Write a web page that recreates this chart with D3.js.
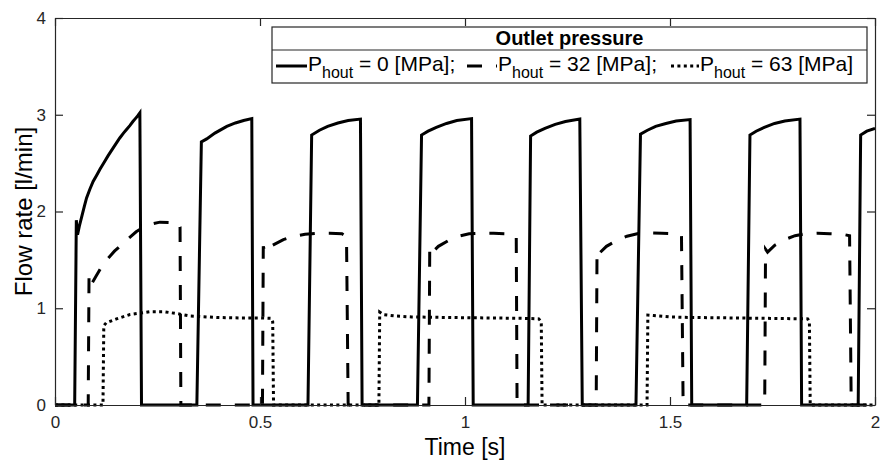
<!DOCTYPE html>
<html>
<head>
<meta charset="utf-8">
<script src="https://cdn.jsdelivr.net/npm/d3@7/dist/d3.min.js"></script>
<style>
  html, body { margin: 0; padding: 0; background: #fff; }
  svg { display: block; font-family: "Liberation Sans", Arial, Helvetica, sans-serif; }
</style>
</head>
<body>
<svg id="chart" width="881" height="460"></svg>
<script>
// ---------------- data ----------------
const xTicks = [0, 0.5, 1, 1.5, 2];
const yTicks = [0, 1, 2, 3, 4];
const xTickLabels = ["0", "0.5", "1", "1.5", "2"];
const yTickLabels = ["0", "1", "2", "3", "4"];

const legendTitle = "Outlet pressure";
const seriesNames = ["0", "32", "63"];

// P_hout = 0 MPa  [time s, flow l/min]
const p0 = [
  [0,0],[0.048,0],[0.052,1.91],[0.055,1.76],[0.060,1.86],[0.066,1.96],[0.072,2.06],[0.077,2.14],[0.085,2.23],
  [0.093,2.31],[0.101,2.37],[0.110,2.44],[0.120,2.51],[0.130,2.58],[0.140,2.645],[0.150,2.71],[0.158,2.76],
  [0.167,2.81],[0.175,2.85],[0.183,2.89],[0.190,2.93],[0.196,2.96],[0.202,2.99],[0.207,3.02],[0.211,0],
  [0.346,0],[0.357,2.72],[0.370,2.75],[0.390,2.81],[0.419,2.88],[0.440,2.915],[0.460,2.94],[0.480,2.96],[0.483,0],
  [0.617,0],[0.626,2.79],[0.645,2.84],[0.665,2.88],[0.690,2.915],[0.715,2.94],[0.745,2.955],[0.749,0],
  [0.884,0],[0.894,2.79],[0.910,2.83],[0.930,2.87],[0.955,2.91],[0.980,2.94],[1.016,2.96],[1.020,0],
  [1.154,0],[1.160,2.78],[1.175,2.82],[1.195,2.86],[1.220,2.90],[1.245,2.93],[1.280,2.955],[1.286,0],
  [1.417,0],[1.428,2.80],[1.445,2.84],[1.465,2.88],[1.490,2.91],[1.515,2.935],[1.549,2.95],[1.553,0],
  [1.687,0],[1.695,2.79],[1.710,2.83],[1.730,2.87],[1.755,2.91],[1.780,2.935],[1.817,2.955],[1.821,0],
  [1.959,0],[1.965,2.79],[1.980,2.83],[2.000,2.86]
];

// P_hout = 32 MPa
const p32 = [
  [0,0],[0.081,0],[0.083,1.34],[0.089,1.25],[0.100,1.33],[0.118,1.46],[0.145,1.59],[0.171,1.69],
  [0.198,1.79],[0.224,1.86],[0.256,1.89],[0.285,1.885],[0.301,1.88],[0.305,1.84],[0.307,0],
  [0.506,0],[0.508,1.64],[0.512,1.58],[0.530,1.65],[0.557,1.71],[0.580,1.74],[0.610,1.765],[0.638,1.775],
  [0.670,1.775],[0.700,1.77],[0.711,1.74],[0.715,0],
  [0.912,0],[0.914,1.62],[0.918,1.57],[0.935,1.64],[0.960,1.70],[0.985,1.745],[1.010,1.77],[1.040,1.775],
  [1.070,1.775],[1.100,1.77],[1.120,1.76],[1.125,1.74],[1.127,0],
  [1.320,0],[1.322,1.60],[1.328,1.57],[1.345,1.64],[1.370,1.70],[1.395,1.745],[1.420,1.77],[1.450,1.78],
  [1.480,1.775],[1.510,1.77],[1.528,1.75],[1.532,0],
  [1.731,0],[1.733,1.61],[1.738,1.58],[1.755,1.65],[1.780,1.71],[1.805,1.75],[1.830,1.77],[1.860,1.775],
  [1.890,1.77],[1.920,1.765],[1.938,1.75],[1.942,0],[2.000,0]
];

// P_hout = 63 MPa
const p63 = [
  [0,0],[0.117,0],[0.119,0.82],[0.125,0.85],[0.150,0.89],[0.183,0.935],[0.232,0.965],[0.264,0.965],
  [0.297,0.945],[0.329,0.92],[0.394,0.905],[0.450,0.90],[0.500,0.90],[0.528,0.895],[0.531,0.86],[0.533,0],
  [0.790,0],[0.792,0.96],[0.800,0.935],[0.830,0.92],[0.870,0.91],[0.950,0.905],[1.050,0.90],[1.150,0.895],
  [1.180,0.89],[1.186,0.86],[1.188,0],
  [1.444,0],[1.446,0.93],[1.460,0.925],[1.500,0.91],[1.550,0.905],[1.650,0.90],[1.750,0.895],[1.836,0.89],
  [1.840,0.86],[1.842,0],[2.000,0]
];

// ---------------- layout ----------------
const svg = d3.select("#chart");
const L = 55, R = 875, T = 18, B = 405;
const axisColor = "#262626";

const x = d3.scaleLinear().domain([0, 2]).range([L, R]);
const y = d3.scaleLinear().domain([0, 4]).range([B, T]);

svg.append("defs").append("clipPath").attr("id", "clip")
  .append("rect").attr("x", L).attr("y", T - 2).attr("width", R - L).attr("height", B - T + 4);

const line = d3.line().x(d => x(d[0])).y(d => y(d[1])).curve(d3.curveLinear);

const styles = [
  { data: p0,  dash: null },
  { data: p32, dash: "15,14" },
  { data: p63, dash: "3,3.4" }
];

const plot = svg.append("g").attr("clip-path", "url(#clip)");
styles.forEach(s => {
  plot.append("path")
    .datum(s.data)
    .attr("d", line)
    .attr("fill", "none")
    .attr("stroke", "#000")
    .attr("stroke-width", 3)
    .attr("stroke-linejoin", "miter")
    .attr("stroke-linecap", "butt")
    .attr("stroke-dasharray", s.dash);
});

// ---------------- axes ----------------
function styleAxis(g) {
  g.selectAll("path.domain").attr("stroke", axisColor).attr("stroke-width", 1.2);
  g.selectAll(".tick line").attr("stroke", axisColor).attr("stroke-width", 1.2);
  g.selectAll(".tick text").attr("fill", axisColor).attr("font-size", 17)
    .attr("font-family", "'Liberation Sans', Arial, sans-serif");
}

svg.append("g").attr("transform", `translate(0,${B})`)
  .call(d3.axisBottom(x).tickValues(xTicks).tickFormat((d, i) => xTickLabels[i])
    .tickSizeInner(-8).tickSizeOuter(0).tickPadding(11))
  .call(styleAxis);

svg.append("g").attr("transform", `translate(${L},0)`)
  .call(d3.axisLeft(y).tickValues(yTicks).tickFormat((d, i) => yTickLabels[i])
    .tickSizeInner(-8).tickSizeOuter(0).tickPadding(9))
  .call(styleAxis);

svg.append("g").attr("transform", `translate(0,${T})`)
  .call(d3.axisTop(x).tickValues(xTicks).tickFormat("").tickSizeInner(-8).tickSizeOuter(0))
  .call(styleAxis);

svg.append("g").attr("transform", `translate(${R},0)`)
  .call(d3.axisRight(y).tickValues(yTicks).tickFormat("").tickSizeInner(-8).tickSizeOuter(0))
  .call(styleAxis);

// axis titles
svg.append("text")
  .attr("x", (L + R) / 2).attr("y", 455)
  .attr("text-anchor", "middle").attr("font-size", 23).attr("fill", "#000")
  .text("Time [s]");

svg.append("text")
  .attr("transform", `translate(32,${(T + B) / 2}) rotate(-90)`)
  .attr("text-anchor", "middle").attr("font-size", 24).attr("fill", "#000")
  .text("Flow rate [l/min]");

// ---------------- legend ----------------
const lg = svg.append("g");
const lx0 = 272, lx1 = 867, ly0 = 27, lySep = 50, ly1 = 83;
lg.append("rect").attr("x", lx0).attr("y", ly0).attr("width", lx1 - lx0).attr("height", ly1 - ly0)
  .attr("fill", "#fff").attr("stroke", axisColor).attr("stroke-width", 1.2);
lg.append("line").attr("x1", lx0).attr("x2", lx1).attr("y1", lySep).attr("y2", lySep)
  .attr("stroke", axisColor).attr("stroke-width", 1.2);
lg.append("text").attr("x", (lx0 + lx1) / 2).attr("y", 45)
  .attr("text-anchor", "middle").attr("font-size", 20).attr("font-weight", "bold").attr("fill", "#000")
  .text(legendTitle);

const entryPos = [
  { s0: 276, s1: 307, tx: 308 },
  { s0: 467, s1: 497, tx: 498 },
  { s0: 671, s1: 699, tx: 700 }
];
const rowY = 63;
seriesNames.forEach((name, i) => {
  const p = entryPos[i];
  lg.append("line").attr("x1", p.s0).attr("x2", p.s1).attr("y1", rowY + 3).attr("y2", rowY + 3)
    .attr("stroke", "#000").attr("stroke-width", 3)
    .attr("stroke-dasharray", styles[i].dash);
  const t = lg.append("text").attr("x", p.tx).attr("y", rowY + 8)
    .attr("font-size", 21).attr("fill", "#000");
  t.append("tspan").text("P");
  t.append("tspan").attr("dy", 7).attr("font-size", 16).text("hout");
  t.append("tspan").attr("dy", -7).text(" = " + name + " [MPa]" + (i < 2 ? ";" : ""));
});
</script>
</body>
</html>
